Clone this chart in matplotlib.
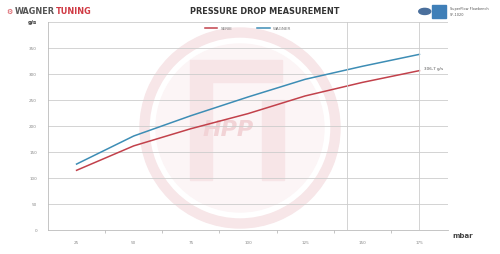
import matplotlib.pyplot as plt
from matplotlib.patches import Circle, Wedge, Rectangle

# pressure drop in mbar vs airflow in g/s
mbar = [25, 50, 75, 100, 125, 150, 175]
serie = [115, 162, 195, 224, 258, 284, 306.7]
wagner = [127, 181, 220, 256, 290, 315, 338]
labels = ['SERIE', 'WAGNER']
yticks = [0, 50, 100, 150, 200, 250, 300, 350, 400]

red = '#c2414b'
blue = '#3d8db5'
narrow = ['Liberation Sans Narrow', 'DejaVu Sans']

fig = plt.figure(figsize=(5, 2.54), dpi=100)
ax = fig.add_axes([0.096, 0.094, 0.8, 0.819])

# pale watermark behind the chart
wm = fig.add_axes([0, 0, 1, 1], zorder=-1)
wm.set_xlim(0, 500)
wm.set_ylim(254, 0)
wm.axis('off')
wm.add_patch(Wedge((240, 128), 100, 0, 360, width=9, color='#f7e6e8'))
wm.add_patch(Circle((240, 128), 84, color='#fcf5f6'))
wm.add_patch(Rectangle((190, 60), 22, 120, color='#f7e5e7'))
wm.add_patch(Rectangle((212, 60), 70, 22, color='#f7e5e7'))
wm.add_patch(Rectangle((262, 100), 22, 80, color='#f7e5e7'))
wm.text(228, 130, 'HPP', fontsize=16, style='italic', fontweight='bold',
        color='#f2d3d6', ha='center', va='center')
ax.patch.set_alpha(0)

ax.plot(mbar, serie, color=red, lw=1.1, label=labels[0])
ax.plot(mbar, wagner, color=blue, lw=1.1, label=labels[1])

ax.set_xlim(12.5, 187.5)
ax.set_ylim(0, 400)
ax.set_xticks(mbar)
ax.set_yticks(yticks)
ax.set_xticks([37.5, 62.5, 87.5, 112.5, 137.5, 162.5], minor=True)
ax.tick_params(labelsize=3, colors='#888888', length=0, pad=8)
ax.tick_params(axis='x', which='minor', length=2, color='#bbbbbb')
ax.grid(axis='y', color='#cccccc', lw=0.6)
for v in [143.5, 175]:
    ax.axvline(v, color='#cccccc', lw=0.6)
for s in ['top', 'right']:
    ax.spines[s].set_visible(False)
for s in ['left', 'bottom']:
    ax.spines[s].set_color('#bbbbbb')
    ax.spines[s].set_linewidth(0.6)

ax.legend(loc='upper center', bbox_to_anchor=(0.5, 0.995), ncol=2, fontsize=3,
          frameon=False, handlelength=3, columnspacing=6, labelcolor='#777777')
ax.annotate('306,7 g/s', (175, serie[-1]), xytext=(3, 0), textcoords='offset points',
            fontsize=3, color='#555555', va='bottom')

fig.text(0.056, 0.913, 'g/s', fontsize=4, fontweight='bold', color='#444444', va='center')
fig.text(0.905, 0.07, 'mbar', fontsize=5, fontweight='bold', color='#444444', va='center')

fig.text(0.38, 0.955, 'PRESSURE DROP MEASUREMENT', fontsize=6.5, fontweight='bold',
         family=narrow, stretch='condensed', color='#333333', va='center')
t1 = fig.text(0.03, 0.955, 'WAGNER', fontsize=6.5, fontweight='bold',
              family=narrow, stretch='condensed', color='#555555', va='center')
fig.canvas.draw()
bb = t1.get_window_extent().transformed(fig.transFigure.inverted())
fig.text(bb.x1 + 0.002, 0.955, 'TUNING', fontsize=6.5, fontweight='bold',
         family=narrow, stretch='condensed', color='#d03a44', va='center')
fig.text(0.013, 0.955, '\u2699', fontsize=5, color='#d03a44', va='center')
fig.patches.append(Circle((0.8495, 0.955), 0.012, transform=fig.transFigure,
                          color='#4a6f9c'))
fig.patches.append(Rectangle((0.864, 0.93), 0.028, 0.05, transform=fig.transFigure,
                             color='#3f7fb8'))
fig.text(0.9, 0.965, 'SuperFlow Flowbench', fontsize=2.5, color='#555555', va='center')
fig.text(0.9, 0.94, 'SF-1020', fontsize=2.5, color='#555555', va='center')

fig.savefig('out.png', dpi=100)
